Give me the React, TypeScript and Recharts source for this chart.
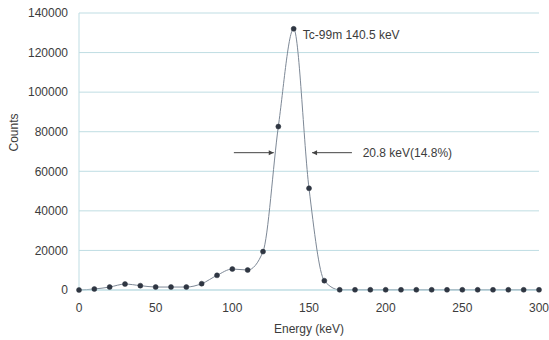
import React from 'react';
import {
  LineChart, Line, XAxis, YAxis, CartesianGrid, ReferenceLine, ReferenceDot, Label,
} from 'recharts';

const energies = [0, 10, 20, 30, 40, 50, 60, 70, 80, 90, 100, 110, 120, 130, 140, 150, 160, 170, 180, 190, 200, 210, 220, 230, 240, 250, 260, 270, 280, 290, 300];
const counts = [0, 500, 1500, 3000, 2200, 1500, 1500, 1500, 3200, 7400, 10600, 10100, 19400, 82600, 132000, 51400, 4700, 100, 100, 100, 100, 100, 100, 100, 100, 100, 100, 100, 100, 100, 100];
const xTicks = [0, 50, 100, 150, 200, 250, 300];
const yTicks = [0, 20000, 40000, 60000, 80000, 100000, 120000, 140000];

const peakLabel = 'Tc-99m 140.5 keV';
const peakLabelPos = { x: 146, y: 129000 };
const fwhmLabel = '20.8 keV(14.8%)';
const fwhmY = 69400;
const leftArrow = { from: 101, to: 127 };
const rightArrow = { from: 178, to: 152 };
const fwhmLabelX = 185;

const data = energies.map((e, i) => ({ energy: e, counts: counts[i] }));

const FONT = 'Liberation Sans, Arial, sans-serif';
const TEXT = '#3c3c3c';
const GRID = '#bfdde3';

const Arrow = (props: any) => {
  const { x1, y1, x2, y2 } = props;
  const dir = x2 > x1 ? 1 : -1;
  return (
    <g>
      <line x1={x1} y1={y1} x2={x2} y2={y2} stroke="#444" strokeWidth={1} />
      <path d={`M${x2},${y2} L${x2 - dir * 5},${y2 - 2.5} L${x2 - dir * 5},${y2 + 2.5} Z`} fill="#444" />
    </g>
  );
};

export default function App() {
  return (
    <div style={{ position: 'absolute', left: 0, top: 0, background: '#fff' }}>
      <LineChart width={549} height={340} data={data} margin={{ top: 13, right: 10, left: 0, bottom: 0 }}>
        <CartesianGrid horizontal vertical={false} stroke={GRID} />
        <XAxis
          dataKey="energy" type="number" domain={[0, 300]} ticks={xTicks}
          height={50} tickSize={0} tickMargin={13} stroke={GRID}
          tick={{ fill: TEXT, fontSize: 12, fontFamily: FONT }}
        >
          <Label value="Energy (keV)" position="insideBottom" offset={7} fill={TEXT} fontSize={12} fontFamily={FONT} />
        </XAxis>
        <YAxis
          type="number" domain={[0, 140000]} ticks={yTicks} width={79}
          tickSize={0} tickMargin={11} stroke={GRID}
          tick={{ fill: TEXT, fontSize: 12, fontFamily: FONT }}
        >
          <Label value="Counts" angle={-90} position="insideLeft" offset={14} fill={TEXT} fontSize={12} fontFamily={FONT} />
        </YAxis>
        <Line
          type="monotone" dataKey="counts" stroke="#7d8896" strokeWidth={1}
          dot={{ r: 2.5, fill: '#2f3642', stroke: '#2f3642', strokeWidth: 0.5 }}
          isAnimationActive={false}
        />
        <ReferenceLine segment={[{ x: leftArrow.from, y: fwhmY }, { x: leftArrow.to, y: fwhmY }]} shape={<Arrow />} ifOverflow="visible" />
        <ReferenceLine segment={[{ x: rightArrow.from, y: fwhmY }, { x: rightArrow.to, y: fwhmY }]} shape={<Arrow />} ifOverflow="visible" />
        <ReferenceDot x={peakLabelPos.x} y={peakLabelPos.y} r={0} stroke="none" fill="none" ifOverflow="visible"
          label={(p: any) => (
            <text x={p.viewBox.cx ?? p.viewBox.x} y={(p.viewBox.cy ?? p.viewBox.y)} dy="0.35em" fill={TEXT} fontSize={12} fontFamily={FONT} textAnchor="start">{peakLabel}</text>
          )}
        />
        <ReferenceDot x={fwhmLabelX} y={fwhmY} r={0} stroke="none" fill="none" ifOverflow="visible"
          label={(p: any) => (
            <text x={p.viewBox.cx ?? p.viewBox.x} y={(p.viewBox.cy ?? p.viewBox.y)} dy="0.35em" fill={TEXT} fontSize={12} fontFamily={FONT} textAnchor="start">{fwhmLabel}</text>
          )}
        />
      </LineChart>
    </div>
  );
}
